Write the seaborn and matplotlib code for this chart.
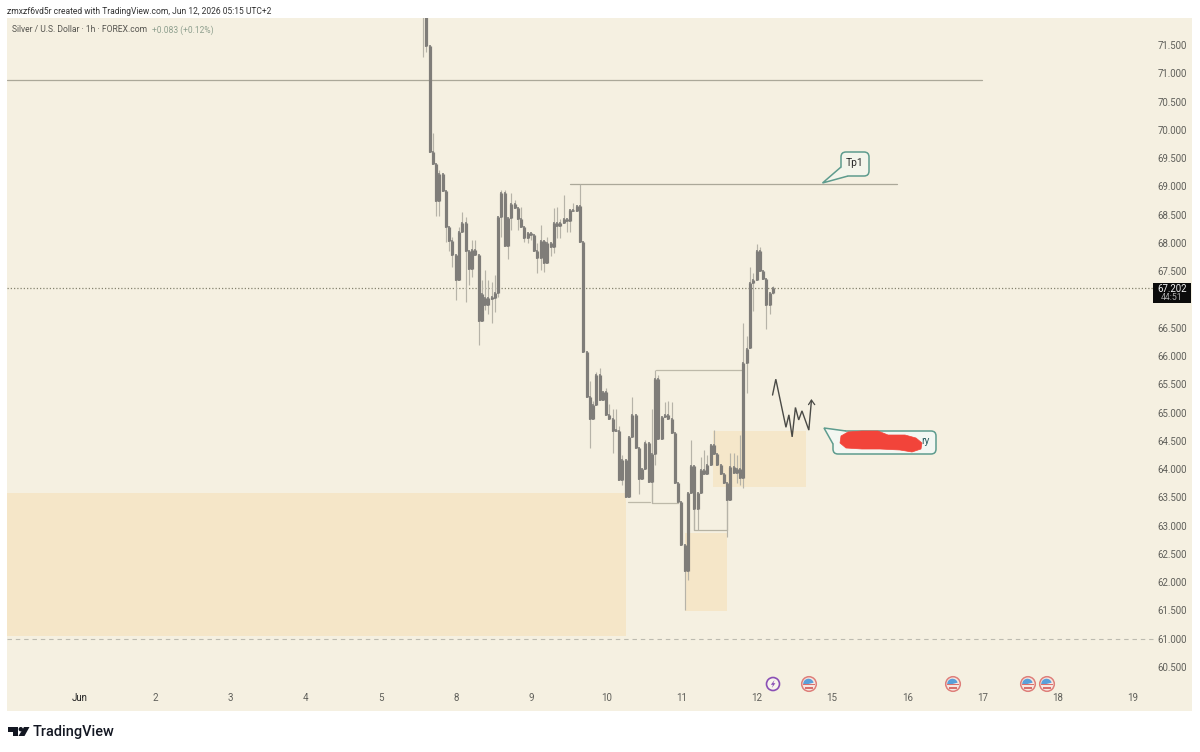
import numpy as np
import pandas as pd
import seaborn as sns
import matplotlib
matplotlib.use("Agg")
import matplotlib.pyplot as plt
from matplotlib.patches import FancyBboxPatch, Polygon, Circle, Wedge, Rectangle
from matplotlib.transforms import Affine2D

# ---------- data (USD per ounce) ----------
# candles hidden above the visible range, then the visible ones
body_hi = [75.0, 74.8, 74.6, 74.4, 74.2, 74.0,
    73.6, 71.48, 69.61, 69.39, 69.21, 69.21, 68.92, 68.28, 68.04, 67.78, 68.20, 68.35, 68.35, 67.85,
    67.88, 67.88, 67.78, 67.09, 67.02, 67.02, 67.04, 67.12, 68.45, 68.88, 68.88, 68.44, 68.68, 68.68,
    68.61, 68.42, 68.29, 68.17, 68.17, 68.14, 67.86, 68.03, 68.03, 67.99, 67.99, 68.35, 68.35, 68.35,
    68.42, 68.42, 68.59, 68.59, 68.65, 68.65, 68.01,
    66.08, 65.27, 65.13, 65.66, 65.66, 65.36, 65.36, 64.95, 64.89, 64.70, 64.68, 64.16, 64.16, 64.57,
    64.96, 64.96, 64.38, 64.01, 64.47, 64.47, 64.26, 65.60, 65.60, 64.93, 64.96, 64.96, 64.88, 64.64,
    63.76, 63.41, 62.66, 63.57, 64.05, 64.05, 63.58, 63.98, 63.98, 64.08, 64.43, 64.43, 64.27, 64.08,
    63.91, 63.75, 64.04, 64.04, 64.01, 64.01, 65.88, 66.12, 67.29, 67.35, 67.86, 67.86, 67.51, 67.36,
    67.12, 67.20]
body_lo = [74.8, 74.6, 74.4, 74.2, 74.0, 73.6,
    71.48, 69.61, 69.39, 68.75, 68.75, 68.92, 68.28, 68.04, 67.78, 67.34, 67.34, 68.20, 67.85, 67.54,
    67.54, 67.78, 66.62, 66.62, 66.91, 66.91, 67.00, 67.02, 67.12, 68.45, 67.95, 67.95, 68.44, 68.61,
    68.42, 68.29, 68.09, 68.09, 68.14, 67.86, 67.73, 67.73, 67.64, 67.64, 67.92, 67.92, 68.30, 68.30,
    68.35, 68.39, 68.39, 68.57, 68.57, 68.01, 66.08,
    65.27, 64.88, 64.88, 65.13, 65.23, 65.23, 64.95, 64.89, 64.67, 64.67, 63.80, 63.80, 63.50, 63.50,
    64.57, 64.38, 63.82, 63.82, 64.01, 63.78, 63.78, 64.26, 64.54, 64.54, 64.92, 64.88, 64.64, 63.76,
    63.41, 62.66, 62.19, 62.19, 63.58, 63.29, 63.29, 63.57, 63.92, 63.92, 64.08, 64.27, 64.08, 63.91,
    63.75, 63.45, 63.45, 63.94, 63.94, 63.84, 63.84, 65.88, 66.14, 67.29, 67.35, 67.51, 67.36, 66.90,
    66.90, 67.12]
wick_hi = [75.2, 75.0, 74.8, 74.6, 74.4, 74.2,
    73.8, 71.48, 69.94, 69.39, 69.29, 69.21, 68.92, 68.28, 68.11, 67.78, 68.29, 68.55, 68.46, 67.85,
    68.05, 68.05, 67.78, 67.34, 67.52, 67.34, 67.31, 67.43, 68.45, 68.94, 68.94, 68.44, 68.88, 68.76,
    68.64, 68.64, 68.29, 68.17, 68.17, 68.14, 67.99, 68.32, 68.03, 68.11, 67.99, 68.61, 68.64, 68.43,
    68.85, 68.42, 68.59, 68.70, 68.65, 69.04, 68.01,
    66.08, 65.55, 65.20, 65.72, 65.78, 65.36, 65.43, 65.16, 65.07, 65.07, 64.76, 64.25, 64.16, 64.57,
    65.28, 64.96, 64.38, 64.01, 64.51, 64.47, 65.06, 65.75, 65.66, 64.93, 65.19, 65.21, 65.19, 64.64,
    63.76, 63.41, 62.66, 63.57, 64.51, 64.05, 63.58, 64.22, 64.34, 64.25, 64.43, 64.69, 64.27, 64.08,
    63.91, 63.75, 64.28, 64.28, 64.25, 64.60, 66.58, 66.35, 67.58, 67.46, 67.98, 67.93, 67.51, 67.36,
    67.12, 67.23]
wick_lo = [74.8, 74.6, 74.4, 74.2, 74.0, 71.29,
    71.38, 69.61, 69.39, 68.48, 68.48, 68.92, 68.02, 67.85, 67.58, 66.99, 67.34, 68.20, 66.96, 67.26,
    67.40, 67.78, 66.20, 66.62, 66.81, 66.75, 66.58, 66.77, 67.05, 68.11, 67.95, 67.71, 68.23, 68.61,
    68.23, 68.29, 68.02, 67.99, 68.05, 67.86, 67.46, 67.52, 67.49, 67.64, 67.76, 67.82, 68.08, 68.08,
    68.35, 68.20, 68.20, 68.57, 68.57, 68.01, 66.08,
    65.27, 64.38, 64.88, 65.13, 65.23, 65.23, 64.95, 64.89, 64.28, 64.67, 63.80, 63.72, 63.50, 63.50,
    64.57, 64.38, 63.56, 63.82, 64.01, 63.78, 63.40, 64.07, 64.54, 64.54, 64.92, 64.88, 64.64, 63.76,
    63.41, 62.66, 61.51, 62.04, 63.58, 62.92, 62.92, 63.57, 63.92, 63.92, 64.08, 64.27, 64.08, 63.91,
    63.75, 62.80, 63.45, 63.94, 63.75, 63.72, 63.66, 65.34, 66.14, 66.79, 67.35, 67.51, 67.36, 66.47,
    66.74, 67.10]

# 67.000 is hidden behind the last-price label in the reference
price_ticks = [60.5, 61, 61.5, 62, 62.5, 63, 63.5, 64, 64.5, 65, 65.5, 66, 66.5, 67.5,
               68, 68.5, 69, 69.5, 70, 70.5, 71, 71.5]
day_labels = ["Jun", "2", "3", "4", "5", "8", "9", "10", "11", "12", "15", "16", "17", "18", "19"]
last_price = 67.202
support_level = 61.0
resistance_level = 70.88
tp1_level = 69.04
top_box_level = 65.75
zone_big = (63.58, 61.05)
zone_small = (62.87, 61.49)
zone_mid = (64.67, 63.68)
path_bars = [111.9, 112.9, 116.0, 116.9, 117.9, 118.9, 119.9, 120.9, 123.0, 123.8]
path_price = [65.31, 65.59, 64.74, 64.96, 64.57, 65.09, 64.87, 65.03, 64.69, 65.22]

# ---------- geometry helpers ----------
W, H = 1200, 752
L, R, T, B = 7, 1192, 18, 711
BAR0, BARW = 406.68, 75.2 / 23
P0, PPX = 71.5, 56.55
def bar_of(px):
    return (px - BAR0) / BARW

sns.set_theme(style="white")
plt.rcParams["font.family"] = ["Roboto", "DejaVu Sans"]
BG = "#F5F0E1"
fig = plt.figure(figsize=(W / 100, H / 100), dpi=100, facecolor="white")
ax = fig.add_axes([L / W, 1 - B / H, (R - L) / W, (B - T) / H], facecolor=BG)
px = Affine2D().scale(1, -1).translate(0, H)   # reference pixel coords

n = len(body_hi)
bars = np.arange(n)
wicks = pd.DataFrame({"bar": np.r_[bars, bars], "price": np.r_[wick_hi, wick_lo], "c": np.r_[bars, bars]})
bodies = pd.DataFrame({"bar": np.r_[bars, bars], "price": np.r_[body_hi, body_lo], "c": np.r_[bars, bars]})

ax.set_xlim(bar_of(L), bar_of(R))
ax.set_ylim(P0 - (B - 45) / PPX, P0 + (45 - T) / PPX)

# zones
ZONE = "#F5E6C8"
ax.axhspan(zone_big[1], zone_big[0], xmin=0, xmax=(626 - L) / (R - L), color=ZONE, lw=0, zorder=1)
ax.fill_between([bar_of(685), bar_of(727)], zone_small[1], zone_small[0], color=ZONE, lw=0, zorder=1)
ax.fill_between([bar_of(713), bar_of(806)], zone_mid[1], zone_mid[0], color=ZONE, lw=0, alpha=.9, zorder=1)

# levels
LINE = "#ABA899"
ax.plot([bar_of(L), bar_of(982)], [resistance_level] * 2, color=LINE, lw=0.9, zorder=2)
ax.plot([bar_of(570), bar_of(897)], [tp1_level] * 2, color=LINE, lw=0.9, zorder=2)
ax.plot([bar_of(656), bar_of(742)], [top_box_level] * 2, color="#BDB9A9", lw=0.9, zorder=2)
ax.plot([bar_of(628), bar_of(650)], [63.42] * 2, color="#BDB9A9", lw=0.9, zorder=2)
ax.plot([bar_of(652), bar_of(652), bar_of(678)], [63.78, 63.40, 63.40], color="#BDB9A9", lw=0.9, zorder=2)
ax.plot([bar_of(694), bar_of(694), bar_of(727), bar_of(727)], [63.29, 62.92, 62.92, 63.45], color="#B6B2A2", lw=0.9, zorder=2)
ax.plot([bar_of(L), bar_of(1153)], [last_price] * 2, color="#85836F", lw=0.9, ls=(0, (1, 1.6)), zorder=2)
ax.plot([bar_of(L), bar_of(1153)], [support_level] * 2, color="#BDBBB0", lw=0.8, ls=(0, (4, 3.5)), zorder=2)

# candles: wicks, a soft halo that gives thin bodies their blurred size, then the bodies
sns.lineplot(data=wicks, x="bar", y="price", units="c", estimator=None, sort=False, ax=ax,
             color="#B6B3A8", lw=0.85, solid_capstyle="butt", zorder=3, legend=False)
sns.lineplot(data=bodies, x="bar", y="price", units="c", estimator=None, sort=False, ax=ax,
             color="#8E8C87", lw=1.4, solid_capstyle="projecting", zorder=3.5, legend=False)
sns.lineplot(data=bodies, x="bar", y="price", units="c", estimator=None, sort=False, ax=ax,
             color="#7F7D79", lw=2.3, solid_capstyle="butt", zorder=4, legend=False)

# hand-drawn path
ax.plot(path_bars, path_price, color="#4A4A46", lw=1.0, zorder=5, solid_joinstyle="miter")
ax.plot([path_bars[-1] - 0.9, path_bars[-1], path_bars[-1] + 1.0],
        [path_price[-1] - 0.08, path_price[-1], path_price[-1] - 0.08], color="#4A4A46", lw=0.9, zorder=5)

# axes
ax.set_xlabel(""); ax.set_ylabel("")
for s in ax.spines.values():
    s.set_visible(False)
ax.set_xticks([bar_of(80) + 23 * i for i in range(len(day_labels))])
ax.set_xticklabels(day_labels, fontsize=7, color="#5F5F5A")
ax.get_xticklabels()[0].set_color("#222222")
ax.tick_params(axis="x", length=0, pad=-13)
ax.yaxis.tick_right()
ax.set_yticks(price_ticks)
ax.set_yticklabels([f"{v:.3f}" for v in price_ticks], fontsize=6.9, color="#5F5F5A", ha="right")
ax.tick_params(axis="y", length=0, pad=-3.6)
for lab in ax.get_xticklabels() + ax.get_yticklabels():
    lab.set_zorder(6)

# header text
fig.text(7 / W, 1 - 12 / H, "zmxzf6vd5r created with TradingView.com, Jun 12, 2026 05:15 UTC+2",
         fontsize=6.15, color="#333333", va="center", ha="left")
fig.text(12 / W, 1 - 30 / H, "Silver / U.S. Dollar · 1h · FOREX.com", fontsize=6.15, color="#55544F", va="center")
fig.text(152 / W, 1 - 30 / H, "+0.083 (+0.12%)", fontsize=6.15, color="#8FA08F", va="center")

# last-price label
fig.add_artist(Rectangle((1153, 283), 38, 20, transform=px, fc="#0B0B0B", ec="none", zorder=7))
fig.text(1172 / W, 1 - 288.5 / H, f"{last_price:.3f}", fontsize=6.9, color="#F2F2F2", ha="center", va="center", zorder=8)
fig.text(1172 / W, 1 - 298 / H, "44:51", fontsize=6.2, color="#B0B0B0", ha="center", va="center", zorder=8)

# callouts
EDGE = "#5E9C8E"
def callout(x0, y0, x1, y1, tail, base, fill):
    fig.add_artist(FancyBboxPatch((x0, y0), x1 - x0, y1 - y0, boxstyle="round,pad=0,rounding_size=5",
                                  transform=px, fc=fill, ec=EDGE, lw=1.1, zorder=7))
    fig.add_artist(Polygon([base[0], tail, base[1]], closed=True, transform=px, fc=fill, ec="none", zorder=8))
    fig.add_artist(Polygon([base[0], tail, base[1]], closed=False, fill=False, transform=px, ec=EDGE, lw=1.1, zorder=8))
callout(841, 152, 869, 176, (822.5, 183), ((841, 167), (848, 176)), "#F4F5EB")
fig.text(855 / W, 1 - 162.5 / H, "Tp1", fontsize=7.4, color="#2B2B2B", ha="center", va="center", zorder=9)
callout(833, 431, 936, 454, (824, 428), ((833, 444), (846, 431)), "#F3F7F2")
fig.text(925 / W, 1 - 441.5 / H, "ry", fontsize=7.4, color="#2F5F62", ha="center", va="center", zorder=9)
scribble = [(841, 436), (848, 432), (862, 431), (878, 431), (888, 435), (905, 435), (916, 438), (922, 443),
            (921, 449), (912, 452), (900, 450), (880, 449), (862, 449), (846, 448), (840, 443)]
fig.add_artist(Polygon(scribble, closed=True, transform=px, fc="#F2443A", ec="#F2443A", lw=0.5, zorder=9, joinstyle="round"))

# event icons
fig.add_artist(Circle((773, 684), 6.5, transform=px, fc="#F8F4EC", ec="#8A4FB5", lw=1.2, zorder=7))
fig.add_artist(Polygon([(774.5, 680), (770.8, 684.8), (773, 684.8), (771.8, 688), (775.4, 683.2), (773.3, 683.2)],
                       transform=px, fc="#8A4FB5", ec="none", zorder=8))
for xc in [809, 953, 1028, 1047]:
    fig.add_artist(Circle((xc, 684), 7.3, transform=px, fc="#F6E8E2", ec="#DE7F7A", lw=1.1, zorder=7))
    fig.add_artist(Rectangle((xc - 5.6, 683.8), 11.2, 1.6, transform=px, fc="#D9706C", ec="none", zorder=8))
    fig.add_artist(Rectangle((xc - 3.6, 687.3), 7.2, 1.3, transform=px, fc="#D9706C", ec="none", zorder=8))
    fig.add_artist(Wedge((xc - 0.5, 684), 5.3, 180, 345, transform=px, fc="#5AA0DA", ec="none", zorder=9))

# logo
LOGO = "#131722"
fig.add_artist(Polygon([(8, 727), (18, 727), (18, 736), (13, 736), (13, 731.5), (8, 731.5)], transform=px, fc=LOGO, ec="none"))
fig.add_artist(Circle((20.8, 729.2), 2.2, transform=px, fc=LOGO, ec="none"))
fig.add_artist(Polygon([(24, 727), (29.5, 727), (24.5, 736), (18.5, 736)], transform=px, fc=LOGO, ec="none"))
fig.text(33 / W, 1 - 732 / H, "TradingView", fontsize=10.45, fontweight="medium", family=["Roboto", "DejaVu Sans"],
         color=LOGO, va="center", ha="left")

fig.savefig("out.png", dpi=100, facecolor="white")
